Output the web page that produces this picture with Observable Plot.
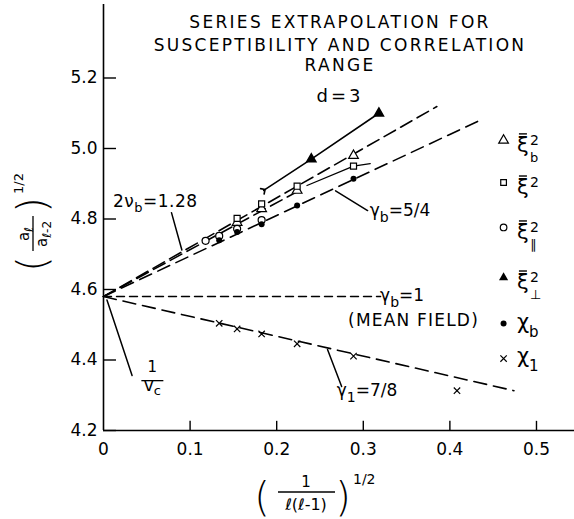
<!DOCTYPE html>
<html><head><meta charset="utf-8">
<script src="https://cdn.jsdelivr.net/npm/d3@7"></script>
<script src="https://cdn.jsdelivr.net/npm/@observablehq/plot@0.6"></script>
<style>body{margin:0;background:#fff} svg{display:block}</style>
</head><body><div id="chart"></div>
<script>
const FONT = "DejaVu Sans";

// ---- tick values & labels ----
const xTicks = [0, 0.1, 0.2, 0.3, 0.4, 0.5];
const xTickLabels = ["0", "0.1", "0.2", "0.3", "0.4", "0.5"];
const yTicks = [4.2, 4.4, 4.6, 4.8, 5.0, 5.2];
const yTickLabels = ["4.2", "4.4", "4.6", "4.8", "5.0", "5.2"];

// ---- data series ----
const xiB_x = [0.1543, 0.1826, 0.2236, 0.2887];      // open triangles  ξb²
const xiB_y = [4.790, 4.829, 4.881, 4.980];
const xi2_x = [0.1543, 0.1826, 0.2236, 0.2887];      // open squares    ξ²
const xi2_y = [4.802, 4.843, 4.893, 4.950];
const xiPar_x = [0.1179, 0.1336, 0.1543, 0.1826];    // open circles    ξ∥²
const xiPar_y = [4.738, 4.752, 4.772, 4.797];
const xiPerp_x = [0.240, 0.318];                     // filled triangles ξ⊥²
const xiPerp_y = [4.970, 5.100];
const chiB_x = [0.1336, 0.1543, 0.1826, 0.2236, 0.2887]; // filled dots χb
const chiB_y = [4.740, 4.763, 4.785, 4.838, 4.914];
const chi1_x = [0.1336, 0.1543, 0.1826, 0.2236, 0.2887, 0.4082]; // crosses χ1
const chi1_y = [4.504, 4.488, 4.474, 4.446, 4.411, 4.313];

// ---- fitted / guide lines ----
const nuUpper_x = [0, 0.385], nuUpper_y = [4.58, 5.119];
const nuLower_x = [0, 0.230], nuLower_y = [4.58, 4.886];
const gammaB_x = [0, 0.433], gammaB_y = [4.58, 5.078];
const meanField_x = [0, 0.320], meanField_y = [4.58, 4.58];
const gamma1_x = [0, 0.474], gamma1_y = [4.58, 4.313];
const perpLine_x = [0.185, 0.240, 0.318], perpLine_y = [4.881, 4.970, 5.100];
const xi2Line_x = [0.235, 0.2887, 0.308], xi2Line_y = [4.895, 4.950, 4.957];

const zip = (xs, ys) => xs.map((x, i) => ({x, y: ys[i]}));

// annotation arrows (label -> line)
const arrows = [
  {x1: 0.0785, y1: 4.818, x2: 0.0905, y2: 4.712, bend: 12},
  {x1: 0.305, y1: 4.824, x2: 0.268, y2: 4.880, bend: -40},
  {x1: 0.275, y1: 4.325, x2: 0.2587, y2: 4.430, bend: 50},
  {x1: 0.033, y1: 4.356, x2: 0.004, y2: 4.570, bend: -15}
];

const legendX = 0.462, legendTextX = 0.478;
const legendY = [5.023, 4.9035, 4.776, 4.634, 4.5035, 4.404];

const lineOpt = (dash) => ({x: "x", y: "y", stroke: "black", strokeWidth: 1.6, strokeDasharray: dash});

const chart = Plot.plot({
  width: 574, height: 519,
  marginTop: 4, marginRight: 0, marginBottom: 89, marginLeft: 103,
  x: {domain: [0, 0.5439]},
  y: {domain: [4.2, 5.4085]},
  style: {fontFamily: FONT, fontSize: "17px", background: "white", color: "black"},
  marks: [
    Plot.ruleX([0], {y1: 4.2, y2: 5.4085, strokeWidth: 1.6}),
    Plot.ruleY([4.2], {x1: 0, x2: 0.5439, strokeWidth: 1.6}),
    Plot.ruleY(yTicks, {y: d => d, x1: 0, x2: 0.015, strokeWidth: 1.4}),
    Plot.ruleX(xTicks.slice(1), {x: d => d, y1: 4.2, y2: 4.226, strokeWidth: 1.4}),
    Plot.axisX({ticks: xTicks, tickFormat: d => xTickLabels[xTicks.indexOf(d)], tickSize: 0, tickPadding: 12, fontSize: 17, label: null}),
    Plot.axisY({ticks: yTicks, tickFormat: d => yTickLabels[yTicks.indexOf(d)], tickSize: 0, tickPadding: 6, fontSize: 17, label: null}),

    Plot.line(zip(nuUpper_x, nuUpper_y), lineOpt("13,6")),
    Plot.line(zip(nuLower_x, nuLower_y), lineOpt("13,6")),
    Plot.line(zip(gammaB_x, gammaB_y), lineOpt("13,7")),
    Plot.line(zip(meanField_x, meanField_y), {...lineOpt("8,5"), strokeWidth: 1.4}),
    Plot.line(zip(gamma1_x, gamma1_y), lineOpt("13,7")),
    Plot.line(zip(perpLine_x, perpLine_y), {x: "x", y: "y", stroke: "black", strokeWidth: 1.6, markerStart: "arrow"}),
    Plot.line(zip(xi2Line_x, xi2Line_y), {x: "x", y: "y", stroke: "black", strokeWidth: 1.3}),

    Plot.arrow(arrows, {x1: "x1", y1: "y1", x2: "x2", y2: "y2", bend: d => d.bend, headLength: 10, headAngle: 45, strokeWidth: 1.5}),

    Plot.dot(zip(xiB_x, xiB_y), {x: "x", y: "y", symbol: "triangle", r: 3.6, fill: "white", stroke: "black", strokeWidth: 1.2}),
    Plot.dot(zip(xi2_x, xi2_y), {x: "x", y: "y", symbol: "square", r: 3.4, fill: "white", stroke: "black", strokeWidth: 1.2}),
    Plot.dot(zip(xiPar_x, xiPar_y), {x: "x", y: "y", symbol: "circle", r: 3.5, fill: "white", stroke: "black", strokeWidth: 1.2}),
    Plot.dot(zip(xiPerp_x, xiPerp_y), {x: "x", y: "y", symbol: "triangle", r: 3.4, fill: "black", stroke: "black"}),
    Plot.dot(zip(chiB_x, chiB_y), {x: "x", y: "y", symbol: "circle", r: 3, fill: "black"}),
    Plot.dot(zip(chi1_x, chi1_y), {x: "x", y: "y", symbol: "times", r: 3, stroke: "black", strokeWidth: 1.2}),

    // legend symbols
    Plot.dot([legendY[0]], {x: legendX, y: d => d, symbol: "triangle", r: 3.6, fill: "white", stroke: "black", strokeWidth: 1.2}),
    Plot.dot([legendY[1]], {x: legendX, y: d => d, symbol: "square", r: 3.2, fill: "white", stroke: "black", strokeWidth: 1.2}),
    Plot.dot([legendY[2]], {x: legendX, y: d => d, symbol: "circle", r: 3.3, fill: "white", stroke: "black", strokeWidth: 1.2}),
    Plot.dot([legendY[3]], {x: legendX, y: d => d, symbol: "triangle", r: 3.4, fill: "black"}),
    Plot.dot([legendY[4]], {x: legendX, y: d => d, symbol: "circle", r: 3, fill: "black"}),
    Plot.dot([legendY[5]], {x: legendX, y: d => d, symbol: "times", r: 3, stroke: "black", strokeWidth: 1.2})
  ]
});
document.getElementById("chart").append(chart);

// ---- rich text annotations ----
const svg = d3.select(chart);
const sx = v => chart.scale("x").apply(v);
const sy = v => chart.scale("y").apply(v);
function rich(x, y, parts, {anchor = "start", size = 17, ls = 0, transform = null, weight = null} = {}) {
  const t = svg.append("text").attr("x", x).attr("y", y)
    .attr("font-family", FONT).attr("font-size", size).attr("text-anchor", anchor)
    .attr("fill", "black").attr("letter-spacing", ls);
  if (transform) t.attr("transform", transform);
  if (weight) t.attr("font-weight", weight);
  let cur = 0;
  for (const p of parts) {
    const [s, shift = 0, fs = size, dx = 0] = Array.isArray(p) ? p : [p];
    t.append("tspan").text(s).attr("font-size", fs).attr("dy", shift - cur).attr("dx", dx);
    cur = shift;
  }
  return t;
}
function bar(x1, x2, y, g = svg, w = 1.3) {
  g.append("line").attr("x1", x1).attr("x2", x2).attr("y1", y).attr("y2", y).attr("stroke", "black").attr("stroke-width", w);
}

// title
const tx = sx(0.2737);
rich(tx, sy(5.3404), ["SERIES EXTRAPOLATION FOR"], {anchor: "middle", ls: 2.3});
rich(tx, sy(5.2752), ["SUSCEPTIBILITY AND CORRELATION"], {anchor: "middle", ls: 2.3});
rich(tx, sy(5.2184), ["RANGE"], {anchor: "middle", ls: 2.3});
rich(tx, sy(5.1305), ["d=3"], {anchor: "middle", size: 18, ls: 3});

// line labels
rich(sx(0.0115), sy(4.833), ["2ν", ["b", 5, 13], ["=1.28", 0]], {ls: 0.5});
rich(sx(0.308), sy(4.807), ["γ", ["b", 6, 14], ["=5/4", 0]]);
rich(sx(0.320), sy(4.566), ["γ", ["b", 6, 14], ["=1", 0]]);
rich(sx(0.283), sy(4.495), ["(MEAN FIELD)"], {ls: 1.2});
rich(sx(0.270), sy(4.296), ["γ", ["1", 6, 14], ["=7/8", 0]]);

// 1/vc
const vx = sx(0.057);
rich(vx, sy(4.365), ["1"], {anchor: "middle", size: 15});
bar(vx - 11, vx + 11, sy(4.34));
rich(vx, sy(4.31), ["v", ["c", 4, 13]], {anchor: "middle", size: 17});

// legend texts
const lx = sx(legendTextX);
function xiEntry(yv, sub) {
  const y = sy(yv);
  rich(lx, y + 12, ["ξ"], {size: 21});
  bar(lx + 2, lx + 10, y - 6, svg, 1.4);
  rich(lx + 13, y + 5, ["2"], {size: 14});
  if (sub) rich(lx + 13, y + 22, [sub], {size: 13});
}
xiEntry(legendY[0], "b");
xiEntry(legendY[1], null);
xiEntry(legendY[2], "\u2225");
xiEntry(legendY[3], "\u22A5");
rich(lx, sy(legendY[4]) + 6, ["χ", ["b", 8, 15]], {size: 21});
rich(lx, sy(legendY[5]) + 5, ["χ", ["1", 8, 15]], {size: 21});

// x-axis label
{
  const cx = 306;
  rich(262, 511, ["("], {anchor: "middle", size: 40, weight: 200});
  rich(343, 511, [")"], {anchor: "middle", size: 40, weight: 200});
  rich(cx, 487, ["1"], {anchor: "middle", size: 15});
  bar(278, 335, 492);
  rich(cx, 510, ["ℓ(ℓ-1)"], {anchor: "middle", size: 16});
  rich(353, 484, ["1/2"], {size: 14});
}
// y-axis label (rotated)
{
  const g = svg.append("g").attr("transform", "translate(33,234) rotate(-90)");
  const gr = (x, y, parts, opt = {}) => {
    const t = g.append("text").attr("x", x).attr("y", y).attr("font-family", FONT)
      .attr("font-size", opt.size || 15).attr("text-anchor", opt.anchor || "middle");
    if (opt.weight) t.attr("font-weight", opt.weight);
    let cur = 0;
    for (const p of parts) {
      const [s, shift = 0, fs = opt.size || 15] = Array.isArray(p) ? p : [p];
      t.append("tspan").text(s).attr("font-size", fs).attr("dy", shift - cur);
      cur = shift;
    }
  };
  gr(-30, 13, ["("], {size: 40, weight: 200});
  gr(29, 13, [")"], {size: 40, weight: 200});
  gr(0, -4, ["a", ["ℓ", 4, 12]]);
  bar(-17, 18, 0, g);
  gr(0, 14, ["a", ["ℓ-2", 4, 12]]);
  gr(40, -10, ["1/2"], {size: 13, anchor: "start"});
}
</script></body></html>
